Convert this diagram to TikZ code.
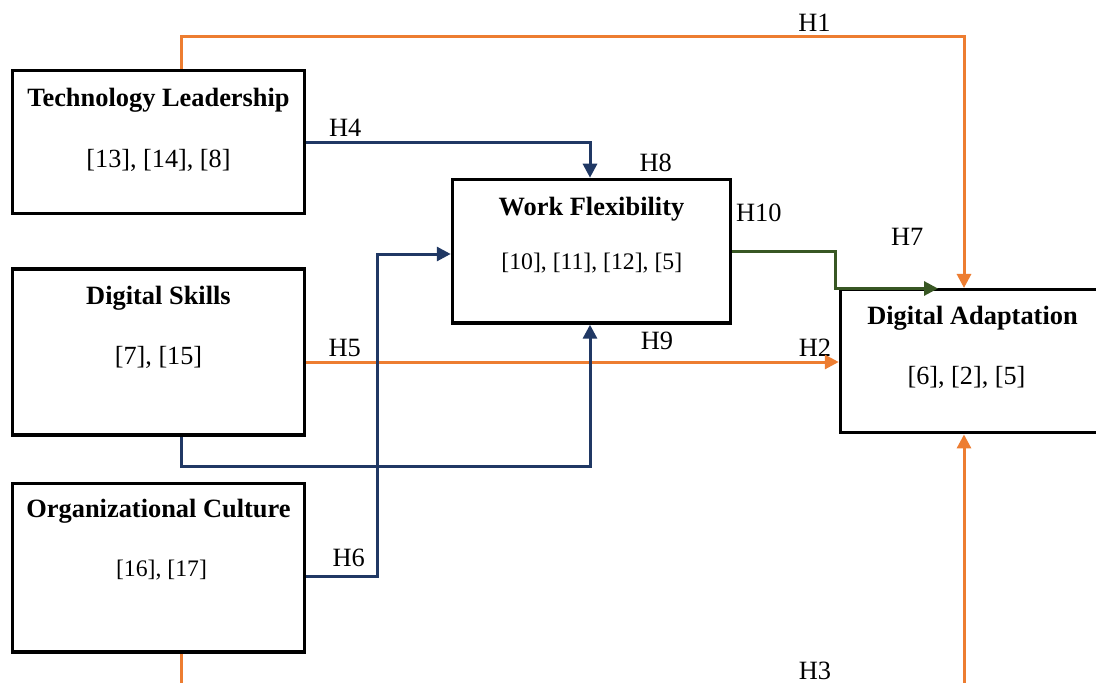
\documentclass[tikz,border=0pt]{standalone}
\usepackage{fontspec}
\setmainfont{Liberation Serif}
\usetikzlibrary{arrows.meta}
\definecolor{orng}{HTML}{ED7D31}
\definecolor{navy}{HTML}{203864}
\definecolor{dgreen}{HTML}{385723}
\begin{document}
\begin{tikzpicture}[x=1pt,y=-1pt,
  box/.style={draw=black, line width=3.5pt, inner sep=0pt, fill=none},
  ttl/.style={anchor=base, inner sep=0pt, font=\bfseries\fontsize{26.4pt}{30pt}\selectfont},
  refa/.style={anchor=base, inner sep=0pt, font=\fontsize{26.2pt}{30pt}\selectfont},
  refb/.style={anchor=base, inner sep=0pt, font=\fontsize{23.7pt}{28pt}\selectfont},
  hyp/.style={anchor=base, inner sep=0pt, font=\fontsize{26.4pt}{30pt}\selectfont},
  conn/.style={line width=3pt, -{Triangle[length=14pt,width=14pt]}},
  plain/.style={line width=3pt}]
\useasboundingbox (0,0) rectangle (1096,683);
\clip (0,0) rectangle (1096,683);
\fill[white] (0,0) rectangle (1096,683);

% boxes
\node[box, minimum width=292pt, minimum height=143pt] (TL) at (158.5,142) {};
\node[box, minimum width=292pt, minimum height=166pt] (DS) at (158.5,352.2) {};
\node[box, minimum width=292pt, minimum height=168.5pt] (OC) at (158.5,567.8) {};
\node[box, minimum width=278pt, minimum height=143.5pt] (WF) at (591.5,251.2) {};
\node[box, minimum width=264pt, minimum height=143pt] (DA) at (972.5,361.2) {};

% texts
\node[ttl] (TLt) at (158.5,106) {Technology Leadership};
\node[refa] (TLr) at (158.5,167.5) {[13], [14], [8]};
\node[ttl] (DSt) at (158.5,304.3) {Digital Skills};
\node[refa] (DSr) at (158.5,364.3) {[7], [15]};
\node[ttl] (OCt) at (158.5,517.3) {Organizational Culture};
\node[refb] (OCr) at (161.5,576) {[16], [17]};
\node[ttl] (WFt) at (591.5,215) {Work Flexibility};
\node[refb] (WFr) at (591.8,269.3) {[10], [11], [12], [5]};
\node[ttl] (DAt) at (972.5,324.3) {Digital Adaptation};
\node[refa] (DAr) at (966.5,384) {[6], [2], [5]};

% hypothesis labels
\node[hyp] (h1) at (814.5,31.7) {H1};
\node[hyp] (h4) at (345.3,136) {H4};
\node[hyp] (h8) at (655.8,171.7) {H8};
\node[hyp] (h10) at (758.8,221) {H10};
\node[hyp] (h7) at (907.2,245) {H7};
\node[hyp] (h5) at (344.7,356.7) {H5};
\node[hyp] (h9) at (657,349.3) {H9};
\node[hyp] (h2) at (815,356) {H2};
\node[hyp] (h6) at (348.8,566) {H6};
\node[hyp] (h3) at (815,679.5) {H3};

% connectors
\coordinate (c181) at (181,0);
\coordinate (c964) at (964,0);
\coordinate (c590) at (590,0);
% H1
\draw[conn, orng] (TL.north -| c181) -- (181,36.7) -- (964,36.7) -- (DA.north -| c964);
% H4
\draw[conn, navy] (TL.east |- 0,142.7) -- (590,142.7) -- (WF.north -| c590);
% H10 / H7 green
\draw[conn, dgreen] (WF.east |- 0,251) -- (835.5,251) -- (835.5,288.5) -- (938,288.5);
% H5 / H2
\draw[conn, orng] (DS.east |- 0,362) -- (DA.west |- 0,362);
% Digital Skills -> Work Flexibility (H9)
\draw[conn, navy] (DS.south -| c181) -- (181,466.7) -- (590,466.7) -- (WF.south -| c590);
% H6
\draw[conn, navy] (OC.east |- 0,576) -- (377.7,576) -- (377.7,254) -- (WF.west |- 0,254);
% H3
\draw[conn, orng] (OC.south -| c181) -- (181,720) -- (964,720) -- (DA.south -| c964);
\end{tikzpicture}
\end{document}
